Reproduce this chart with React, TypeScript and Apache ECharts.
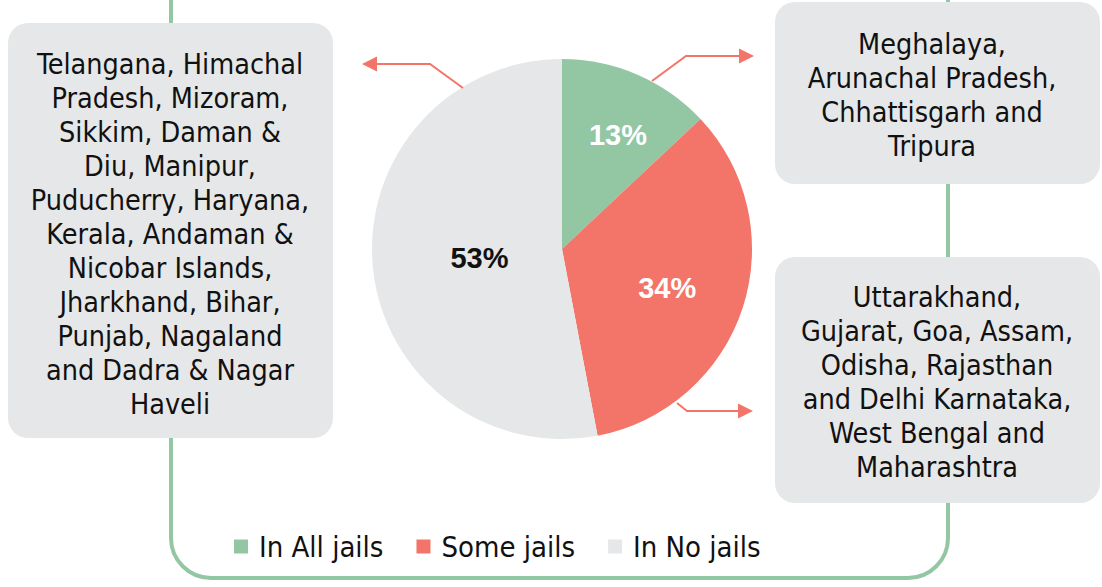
import React, { useEffect, useRef } from "react";
import * as echarts from "echarts";

const categories = ["In All jails", "Some jails", "In No jails"];
const shares = [13, 34, 53];
const colors = ["#93c7a4", "#f37468", "#e6e7e8"];
const labelColors = ["#ffffff", "#ffffff", "#111111"];
const labelNudge = [
  [17, -24],
  [12, 9],
  [15, 0],
];

const leftStates = [
  "Telangana, Himachal",
  "Pradesh, Mizoram,",
  "Sikkim, Daman &",
  "Diu, Manipur,",
  "Puducherry, Haryana,",
  "Kerala, Andaman &",
  "Nicobar Islands,",
  "Jharkhand, Bihar,",
  "Punjab, Nagaland",
  "and Dadra & Nagar",
  "Haveli",
];
const topRightStates = ["Meghalaya,", "Arunachal Pradesh,", "Chhattisgarh and", "Tripura"];
const bottomRightStates = [
  "Uttarakhand,",
  "Gujarat, Goa, Assam,",
  "Odisha, Rajasthan",
  "and Delhi Karnataka,",
  "West Bengal and",
  "Maharashtra",
];

const FONT = '"DejaVu Sans Condensed", "DejaVu Sans", sans-serif';
const ARROW = "#f37468";
const GREEN = "#93c7a4";
const BOX = "#e6e7e8";

function box(x: number, y: number, w: number, h: number, lines: string[], cx: number, cy: number) {
  return [
    { type: "rect", shape: { x, y, width: w, height: h, r: 20 }, style: { fill: BOX }, z: 10 },
    {
      type: "text",
      x: cx,
      y: cy,
      z: 11,
      style: {
        text: lines.join("\n"),
        fill: "#111111",
        font: `28.5px ${FONT}`,
        lineHeight: 34,
        align: "center",
        verticalAlign: "middle",
      },
    },
  ];
}

function arrow(points: number[][], dir: number) {
  const tip = points[points.length - 1];
  const base = tip[0] - dir * 15;
  return [
    {
      type: "polyline",
      z: 12,
      shape: { points: [...points.slice(0, -1), [base, tip[1]]] },
      style: { stroke: ARROW, lineWidth: 2, fill: "none" },
    },
    {
      type: "polygon",
      z: 12,
      shape: { points: [[tip[0], tip[1]], [base, tip[1] - 7.5], [base, tip[1] + 7.5]] },
      style: { fill: ARROW },
    },
  ];
}

export default function App() {
  const ref = useRef<HTMLDivElement>(null);
  useEffect(() => {
    document.body.style.margin = "0";
    const chart = echarts.init(ref.current!, null, { renderer: "svg" });
    chart.setOption({
      animation: false,
      backgroundColor: "#ffffff",
      legend: {
        data: categories,
        left: 229,
        top: 527,
        icon: "rect",
        itemWidth: 14,
        itemHeight: 14,
        itemGap: 33,
        textStyle: { fontFamily: FONT, fontSize: 29, color: "#111111", padding: [0, 0, 0, 6] },
      },
      graphic: [
        {
          type: "rect",
          z: 1,
          shape: { x: 171, y: -60, width: 777, height: 638, r: 40 },
          style: { fill: "none", stroke: GREEN, lineWidth: 4 },
        },
        ...box(8, 23, 325, 415, leftStates, 170, 234),
        ...box(775, 2, 325, 182, topRightStates, 932, 95),
        ...box(775, 257, 325, 246, bottomRightStates, 937, 382),
        ...arrow([[463, 88], [430, 64], [362, 64]], -1),
        ...arrow([[652, 81], [686, 56], [754, 56]], 1),
        ...arrow([[677, 403], [687, 411], [753, 411]], 1),
      ],
      series: [
        {
          type: "pie",
          center: [562, 249],
          radius: 190,
          startAngle: 90,
          clockwise: true,
          silent: true,
          data: categories.map((name, i) => ({
            name,
            value: shares[i],
            itemStyle: { color: colors[i] },
            label: { color: labelColors[i] },
          })),
          label: {
            show: true,
            position: "inside",
            formatter: "{c}%",
            fontFamily: "Liberation Sans",
            fontWeight: "bold",
            fontSize: 29,
          },
          labelLine: { show: false },
          labelLayout: (p: any) => ({ dx: labelNudge[p.dataIndex][0], dy: labelNudge[p.dataIndex][1] }),
        },
      ],
    });
    return () => chart.dispose();
  }, []);
  return <div ref={ref} style={{ width: 1102, height: 587 }} />;
}
